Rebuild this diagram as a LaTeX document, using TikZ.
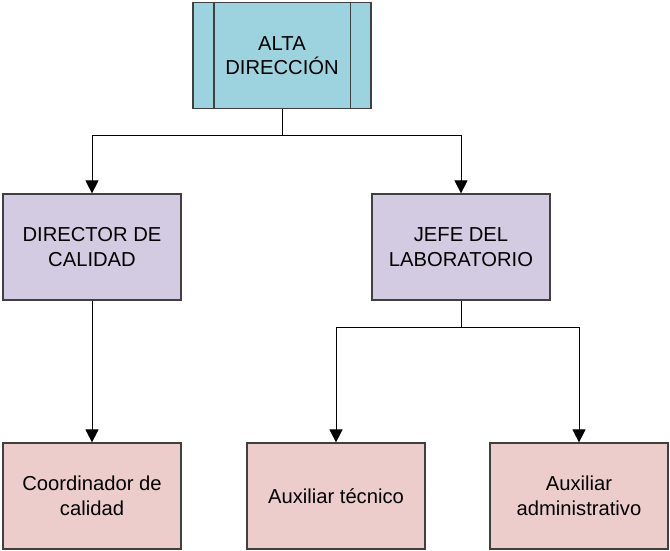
\documentclass[tikz,border=0pt]{standalone}
\usepackage{fontspec}
\setmainfont{Liberation Sans}
\usetikzlibrary{arrows.meta}
\definecolor{topfill}{RGB}{157,211,223}
\definecolor{midfill}{RGB}{210,203,225}
\definecolor{lowfill}{RGB}{236,205,204}
\definecolor{edge}{RGB}{64,64,64}
\tikzset{
  box/.style={draw=edge, line width=1.2pt, rectangle, minimum width=178pt, minimum height=106pt,
    align=center, inner sep=0pt, font=\fontsize{20.2}{24.5}\selectfont},
  arr/.style={line width=1pt, -{Triangle[width=13pt,length=13pt]}},
  conn/.style={line width=1pt},
}
\begin{document}
\begin{tikzpicture}[x=1pt,y=-1pt]
\useasboundingbox (0,0) rectangle (670,550);
\node[box, fill=topfill] (top) at (282,55.5) {ALTA\\DIRECCIÓN};
\draw[edge, line width=1.2pt] ([xshift=21.5pt]top.north west) -- ([xshift=21.5pt]top.south west);
\draw[edge, line width=1.2pt] ([xshift=-21.5pt]top.north east) -- ([xshift=-21.5pt]top.south east);
\node[box, fill=midfill] (dir) at (92,247) {DIRECTOR DE\\CALIDAD};
\node[box, fill=midfill] (jefe) at (461,247) {JEFE DEL\\LABORATORIO};
\node[box, fill=lowfill] (coord) at (92,496) {Coordinador de\\calidad};
\node[box, fill=lowfill] (tec) at (336,496) {Auxiliar técnico};
\node[box, fill=lowfill] (adm) at (579,496) {Auxiliar\\administrativo};
\coordinate (j1) at (282,135);
\coordinate (j2) at (461,327);
\draw[conn] (top.south) -- (j1);
\draw[arr] (j1) -| (dir.north);
\draw[arr] (j1) -| (jefe.north);
\draw[arr] (dir.south) -- (coord.north);
\draw[conn] (jefe.south) -- (j2);
\draw[arr] (j2) -| (tec.north);
\draw[arr] (j2) -| (adm.north);
\end{tikzpicture}
\end{document}
